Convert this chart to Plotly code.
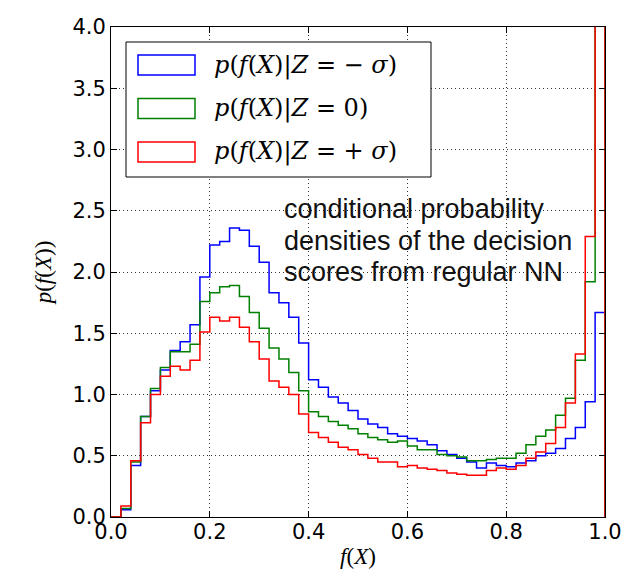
import numpy as np
import plotly.graph_objects as go

# ---- data (step histograms, 50 bins of width 0.02 on [0, 1]) ----
bin_edges = np.linspace(0.0, 1.0, 51)

density_minus_sigma = [
    0.00, 0.06, 0.42, 0.82, 1.03, 1.20, 1.36, 1.43, 1.57, 1.96,
    2.22, 2.25, 2.36, 2.34, 2.21, 2.08, 1.83, 1.75, 1.63, 1.42,
    1.12, 1.06, 0.98, 0.93, 0.87, 0.80, 0.76, 0.73, 0.68, 0.66,
    0.64, 0.62, 0.59, 0.54, 0.51, 0.48, 0.45, 0.40, 0.44, 0.42,
    0.41, 0.44, 0.46, 0.50, 0.52, 0.56, 0.64, 0.73, 0.94, 1.67,
]
density_zero = [
    0.00, 0.07, 0.45, 0.82, 1.05, 1.22, 1.35, 1.35, 1.41, 1.76,
    1.83, 1.88, 1.89, 1.80, 1.67, 1.54, 1.38, 1.29, 1.18, 1.03,
    0.86, 0.82, 0.78, 0.75, 0.72, 0.68, 0.65, 0.63, 0.61, 0.62,
    0.58, 0.55, 0.55, 0.51, 0.50, 0.49, 0.46, 0.46, 0.47, 0.48,
    0.48, 0.52, 0.59, 0.66, 0.71, 0.83, 0.97, 1.28, 1.92, 4.60,
]
density_plus_sigma = [
    0.00, 0.09, 0.46, 0.77, 1.00, 1.15, 1.23, 1.20, 1.28, 1.51,
    1.63, 1.60, 1.63, 1.55, 1.43, 1.29, 1.11, 1.06, 1.00, 0.84,
    0.69, 0.65, 0.61, 0.57, 0.55, 0.51, 0.48, 0.45, 0.45, 0.41,
    0.42, 0.40, 0.39, 0.38, 0.36, 0.35, 0.34, 0.34, 0.38, 0.40,
    0.39, 0.42, 0.48, 0.53, 0.60, 0.73, 0.93, 1.33, 2.29, 5.00,
]

series_names = [
    "<i>p</i>(<i>f</i>(<i>X</i>)|<i>Z</i> = − <i>σ</i>)",
    "<i>p</i>(<i>f</i>(<i>X</i>)|<i>Z</i> = 0)",
    "<i>p</i>(<i>f</i>(<i>X</i>)|<i>Z</i> = + <i>σ</i>)",
]
series_values = [density_minus_sigma, density_zero, density_plus_sigma]
series_colors = ["#0000ff", "#008000", "#ff0000"]

x_ticks = [0.0, 0.2, 0.4, 0.6, 0.8, 1.0]
y_ticks = [0.0, 0.5, 1.0, 1.5, 2.0, 2.5, 3.0, 3.5, 4.0]

note_lines = [
    "conditional probability",
    "densities of the decision",
    "scores from regular NN",
]

x_title = "<i>f</i>(<i>X</i>)"
y_title = "<i>p</i>(<i>f</i>(<i>X</i>))"


def step_path(edges, vals):
    xs = [edges[0]]
    ys = [0.0]
    for i, v in enumerate(vals):
        xs += [edges[i], edges[i + 1]]
        ys += [v, v]
    xs.append(edges[-1])
    ys.append(0.0)
    return xs, ys


fig = go.Figure()
for name, vals, col in zip(series_names, series_values, series_colors):
    xs, ys = step_path(bin_edges, vals)
    fig.add_trace(go.Scatter(x=xs, y=ys, mode="lines", name=name,
                             line=dict(color=col, width=1.5),
                             showlegend=False, hoverinfo="skip"))

W, H = 633, 571
L, R, T, B = 103, 36, 19, 62
pw, ph = W - L - R, H - T - B


def px_x(p):
    return (p - L) / pw


def px_y(p):
    return (H - B - p) / ph


shapes = []
annotations = []

# legend box (matplotlib-style, patches as outlined rectangles)
shapes.append(dict(type="rect", xref="paper", yref="paper",
                   x0=px_x(118), x1=px_x(423), y0=px_y(169), y1=px_y(34),
                   line=dict(color="black", width=1), fillcolor="white", layer="above"))
for k, (name, col) in enumerate(zip(series_names, series_colors)):
    cy = 57 + k * 43.5
    shapes.append(dict(type="rect", xref="paper", yref="paper",
                       x0=px_x(130), x1=px_x(187), y0=px_y(cy + 10), y1=px_y(cy - 10),
                       line=dict(color=col, width=1.5), fillcolor="rgba(0,0,0,0)", layer="above"))
    annotations.append(dict(xref="paper", yref="paper", x=px_x(204), y=px_y(cy),
                            xanchor="left", yanchor="middle", showarrow=False, text=name,
                            font=dict(family="DejaVu Serif", size=24, color="black")))

for k, line in enumerate(note_lines):
    annotations.append(dict(xref="paper", yref="paper", x=px_x(274), y=px_y(201 + k * 31.5),
                            xanchor="left", yanchor="middle", showarrow=False, text=line,
                            font=dict(family="Liberation Sans, Arial", size=27, color="#111111")))

axis_common = dict(showline=True, linecolor="black", linewidth=1, mirror="allticks",
                   ticks="inside", ticklen=6, tickcolor="black", tickwidth=1,
                   showgrid=True, gridcolor="#333333", gridwidth=1, griddash="1px,3px",
                   zeroline=False, automargin=False,
                   tickfont=dict(family="DejaVu Sans", size=21, color="black"))

fig.update_layout(
    width=W, height=H,
    margin=dict(l=L, r=R, t=T, b=B, pad=0),
    paper_bgcolor="white", plot_bgcolor="white",
    xaxis=dict(range=[0, 1], tickvals=x_ticks, ticktext=[f"{v:.1f}" for v in x_ticks],
               ticklabelstandoff=-4,
               title=dict(text=x_title, font=dict(family="Liberation Serif", size=23, color="black"),
                          standoff=4),
               **axis_common),
    yaxis=dict(range=[0, 4], tickvals=y_ticks, ticktext=[f"{v:.1f}" for v in y_ticks],
               title=dict(text=y_title, font=dict(family="Liberation Serif", size=23, color="black"),
                          standoff=14),
               **axis_common),
    shapes=shapes,
    annotations=annotations,
    showlegend=False,
)

fig.write_html("out.html")
